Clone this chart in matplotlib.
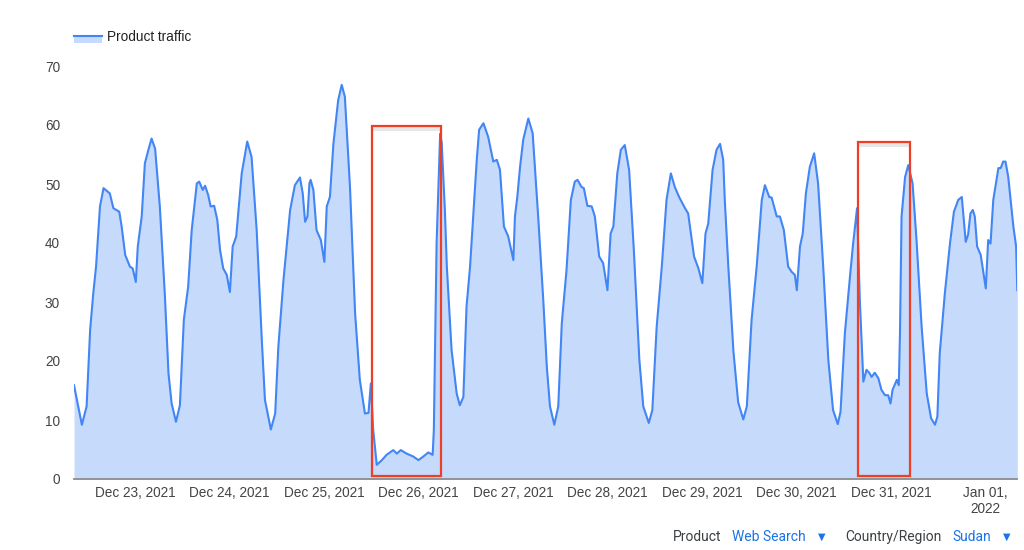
import matplotlib
matplotlib.use("Agg")
import matplotlib.pyplot as plt
import matplotlib.dates as mdates
from matplotlib.patches import Rectangle
from matplotlib.lines import Line2D
import pandas as pd

# hours after 2021-12-22 00:00, and the traffic value
hours = [8.5, 10.5, 11.7, 12.6, 13.4, 14.1, 15.1, 16.0, 17.6, 18.5, 20.0, 20.6, 21.5, 22.7, 23.4,
         24.2, 24.7, 25.7, 26.5, 27.4, 28.2, 29.1, 30.3, 31.6, 32.5, 33.3, 34.4, 35.4, 36.4, 37.5,
         38.4, 39.7, 40.3, 41.2, 41.8, 42.6, 43.2, 44.1, 44.9, 45.6, 46.4, 47.3, 48.1, 48.8, 49.7,
         51.1, 52.5, 53.6, 54.9, 56.2, 57.0, 58.5, 59.6, 60.4, 61.7, 63.4, 64.6, 65.9, 66.6, 67.2,
         67.8, 68.3, 68.6, 69.3, 70.1, 71.2, 72.1, 72.7, 73.5, 74.4, 75.6, 76.5, 77.3, 78.6, 79.9,
         81.1, 82.4, 83.3, 83.9, 84.5, 85.4, 86.7, 87.9, 89.6, 90.5, 91.5, 93.0, 94.7, 96.0, 97.2,
         98.5, 99.6, 99.9, 100.6, 101.5, 101.9, 102.7, 103.2, 104.4, 105.7, 106.5, 107.4, 108.2,
         109.1, 109.9, 110.8, 111.4, 112.5, 113.7, 115.0, 115.9, 116.7, 117.7, 118.8, 120.1, 120.5,
         121.1, 121.8, 122.6, 123.9, 125.0, 126.4, 127.7, 128.6, 129.4, 130.5, 131.5, 132.4, 133.6,
         134.7, 135.7, 136.4, 137.4, 138.0, 138.9, 140.0, 140.8, 141.9, 142.9, 144.0, 144.8, 145.5,
         146.5, 147.4, 148.4, 149.5, 150.7, 152.1, 153.1, 154.5, 155.4, 156.5, 157.8, 159.0, 160.1,
         161.1, 162.2, 163.7, 164.5, 166.0, 167.1, 168.1, 168.9, 169.6, 170.7, 171.7, 172.6, 173.4,
         173.8, 174.7, 176.0, 177.2, 178.5, 179.4, 180.6, 181.9, 183.2, 184.0, 185.1, 185.7, 187.0,
         187.8, 188.8, 189.9, 190.8, 191.6, 192.1, 192.9, 193.6, 194.4, 195.4, 196.5, 197.5, 198.8,
         200.1, 201.3, 202.5, 203.2, 204.3, 205.6, 206.4, 207.4, 208.1, 209.0, 209.8, 210.5, 211.1,
         211.9, 212.8, 213.6, 214.5, 215.3, 215.9, 216.4, 217.5, 218.0, 218.3, 218.7, 219.6, 220.4,
         221.5, 222.5, 223.8, 225.1, 226.2, 227.2, 227.8, 228.4, 229.7, 231.0, 232.0, 233.1, 234.0,
         235.0, 235.6, 236.2, 236.8, 237.3, 237.9, 238.8, 239.4, 240.1, 240.7, 241.3, 242.0, 243.3,
         243.9, 244.5, 245.1, 245.8, 247.1, 247.8, 248.1]
traffic = [15.9, 9.2, 12.3, 25.3, 31.5, 36.0, 46.2, 49.3, 48.4, 45.9, 45.3, 42.8, 38.0, 36.0, 35.7,
           33.4, 39.4, 44.5, 53.5, 55.8, 57.7, 56.0, 46.2, 30.9, 17.9, 12.8, 9.7, 12.5, 27.0, 32.6,
           42.2, 50.1, 50.4, 49.0, 49.7, 48.1, 46.2, 46.3, 43.9, 38.8, 35.7, 34.6, 31.7, 39.4, 41.1,
           51.8, 57.2, 54.6, 42.2, 23.6, 13.4, 8.4, 11.1, 22.4, 33.7, 45.6, 49.8, 51.1, 48.4, 43.6,
           44.5, 50.1, 50.7, 49.0, 42.2, 40.5, 36.8, 46.2, 47.8, 56.9, 64.2, 66.8, 64.8, 49.5, 28.1,
           16.8, 11.1, 11.2, 16.2, 8.3, 2.4, 3.2, 4.1, 4.9, 4.3, 4.9, 4.3, 3.8, 3.2, 3.8,
           4.5, 4.1, 8.3, 39.9, 58.5, 57.0, 45.6, 36.0, 21.9, 14.5, 12.5, 13.9, 29.2,
           36.0, 44.5, 54.1, 59.2, 60.3, 58.0, 53.8, 54.1, 52.4, 42.8, 41.1, 37.1, 44.5,
           47.8, 52.9, 57.5, 61.1, 58.6, 44.5, 30.3, 19.0, 12.3, 9.2, 12.3, 26.4, 35.4,
           47.3, 50.4, 50.7, 49.5, 49.3, 46.3, 46.2, 44.5, 37.7, 36.6, 32.0, 41.6, 42.8,
           51.8, 55.8, 56.6, 52.4, 38.8, 20.2, 12.3, 9.5, 11.7, 25.8, 36.0, 47.3, 51.8,
           49.5, 47.8, 45.9, 45.0, 37.7, 35.7, 33.2, 41.6, 43.3, 52.4, 55.8, 56.8, 54.1,
           47.3, 36.0, 21.6, 13.0, 10.1, 12.3, 26.9, 36.0, 47.3, 49.8, 47.8, 47.7, 44.5,
           44.5, 42.2, 36.0, 35.1, 34.6, 32.0, 39.4, 41.6, 48.4, 52.9, 55.2, 50.1, 36.0,
           20.2, 11.7, 9.3, 11.4, 24.7, 34.3, 39.9, 45.9, 30.3, 16.5, 18.5, 18.0, 17.3,
           18.0, 17.1, 15.1, 14.2, 14.2, 12.8, 15.1, 16.8, 15.9, 24.7, 44.5, 51.2, 53.2,
           50.1, 40.5, 25.8, 14.5, 10.3, 9.2, 10.6, 21.3, 31.5, 39.9, 45.3, 47.3, 47.8,
           40.2, 41.4, 45.0, 45.6, 44.5, 39.4, 38.0, 35.4, 32.3, 40.5, 39.9, 47.3, 52.7,
           52.7, 53.8, 53.8, 51.2, 42.8, 39.4, 32.0]

# highlighted outages: (start hour, end hour, box top)
outages = [(84.3, 101.7, 59.8), (207.7, 220.8, 57.2)]

tick_days = pd.date_range("2021-12-23", "2022-01-01", freq="D")
tick_labels = [d.strftime("%b %d, %Y") for d in tick_days[:-1]] + ["Jan 01,\n2022"]

base = pd.Timestamp("2021-12-22")
times = base + pd.to_timedelta(hours, unit="h")

line_color = "#4285f4"
fill_color = "#c6dafc"
text_gray = "#444444"

plt.rcParams["font.family"] = ["Liberation Sans", "DejaVu Sans"]

fig = plt.figure(figsize=(10.24, 5.5), dpi=100)
ax = fig.add_axes([74 / 1024, 1 - 479 / 550, (1017.3 - 74) / 1024, (479 - 66) / 550])

ax.fill_between(times, traffic, 0, color=fill_color, lw=0)
ax.plot(times, traffic, color=line_color, lw=1.5, solid_joinstyle="round")

# red boxes round the outages (with the faint shadow under the top edge)
for h0, h1, top in outages:
    x0 = mdates.date2num(base + pd.Timedelta(hours=h0))
    x1 = mdates.date2num(base + pd.Timedelta(hours=h1))
    ax.add_patch(Rectangle((x0, top - 0.9), x1 - x0, 0.9, facecolor="#e2e2e2",
                           edgecolor="none", alpha=0.8, zorder=3))
    ax.add_patch(Rectangle((x0, 0.5), x1 - x0, top - 0.5, facecolor="none",
                           edgecolor="#ee3f25", lw=1.6, zorder=4))

ax.set_xlim(times[0], times[-1])
ax.set_ylim(0, 70)
ax.set_yticks(range(0, 71, 10))
ax.set_xticks(tick_days)
ax.set_xticklabels(tick_labels, linespacing=1.15)
ax.tick_params(axis="both", length=0, labelsize=9.8, labelcolor=text_gray)
ax.tick_params(axis="y", pad=10)
ax.tick_params(axis="x", pad=5)
for s in ["top", "right", "left"]:
    ax.spines[s].set_visible(False)
ax.spines["bottom"].set_color("#8c8c8c")
ax.spines["bottom"].set_linewidth(1.3)
ax.set_facecolor("white")

# legend at the top left
fig.add_artist(Rectangle((74 / 1024, 1 - 43 / 550), 28 / 1024, 8 / 550,
                         transform=fig.transFigure, facecolor=fill_color, edgecolor="none"))
fig.add_artist(Line2D([74 / 1024, 102 / 1024], [1 - 36 / 550, 1 - 36 / 550],
                      transform=fig.transFigure, color=line_color, lw=1.5))
fig.text(107 / 1024, 1 - 37 / 550, "Product traffic", fontsize=9.8, color="#222222",
         va="center", ha="left")

# selector row at the bottom right
sel_y = 1 - 537 / 550
sel_font = ["Roboto", "DejaVu Sans"]
fig.text(672.7 / 1024, sel_y, "Product", fontsize=10, color="#3c4043",
         family=sel_font, va="center", ha="left")
fig.text(731.7 / 1024, sel_y, "Web Search", fontsize=10, color="#1a73e8",
         family=sel_font, va="center", ha="left")
fig.text(821.5 / 1024, sel_y, "▼", fontsize=7, color="#1a73e8",
         family=["DejaVu Sans"], va="center", ha="center")
fig.text(845 / 1024, sel_y, "Country/Region", fontsize=10, color="#3c4043",
         family=sel_font, va="center", ha="left")
fig.text(952.7 / 1024, sel_y, "Sudan", fontsize=10, color="#1a73e8",
         family=sel_font, va="center", ha="left")
fig.text(1007 / 1024, sel_y, "▼", fontsize=7, color="#1a73e8",
         family=["DejaVu Sans"], va="center", ha="center")

fig.savefig("out.png", dpi=100, facecolor="white")
plt.close(fig)
